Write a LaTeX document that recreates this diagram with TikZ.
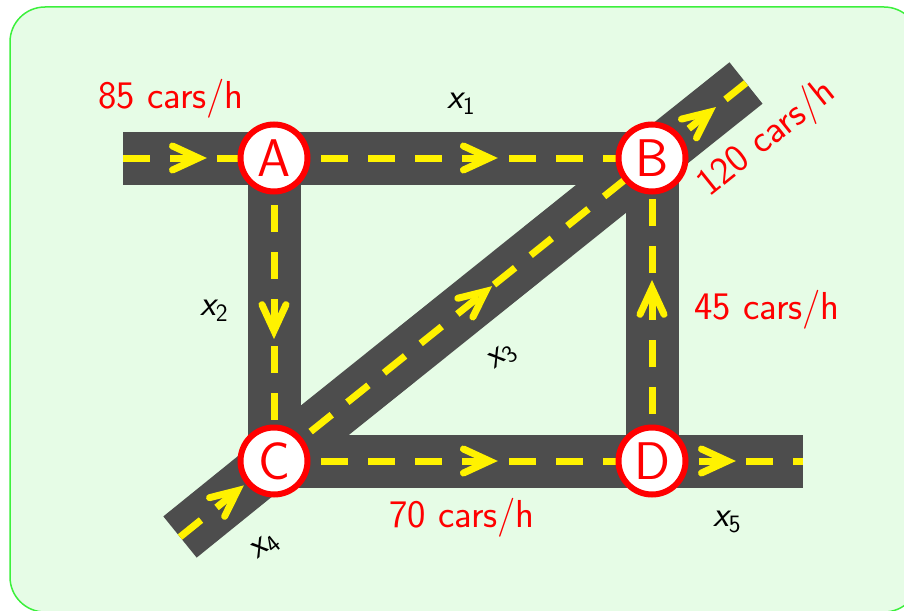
\documentclass[tikz,border=0pt]{standalone}
\usetikzlibrary{decorations.markings}
\definecolor{roadgray}{HTML}{4D4D4D}
\definecolor{bgfill}{HTML}{E6FCE6}
\definecolor{bgline}{HTML}{3CF03C}
\pgfdeclarelayer{bglayer}
\pgfdeclarelayer{roadlayer}
\pgfsetlayers{bglayer,roadlayer,main}
\tikzset{
  road/.style={draw=roadgray, line width=53pt, line cap=butt, line join=miter},
  lane/.style={draw=yellow, line width=7pt, dash pattern=on 27pt off 20pt},
  flow/.style={postaction={decorate}, decoration={markings, mark=at position #1 with {\draw[yellow, solid, line width=7pt, line cap=round, line join=miter] (-26pt,12pt) -- (0pt,0pt) -- (-26pt,-12pt);}}},
  junction/.style={circle, draw=red, line width=6pt, fill=white, minimum size=67pt, inner sep=0pt, text=red, font=\fontsize{53}{53}\selectfont\sffamily},
  rate/.style={text=red, font=\fontsize{39}{39}\selectfont\sffamily, inner sep=0pt},
  var/.style={text=black, inner sep=0pt},
}
\newcommand{\flowvar}[1]{{\fontsize{36}{36}\selectfont\sffamily\itshape x}\raisebox{-6pt}{\fontsize{25}{25}\selectfont\sffamily #1}}
\begin{document}
\begin{tikzpicture}[x=1pt, y=-1pt]
\useasboundingbox (0,0) rectangle (904,610);
\begin{pgfonlayer}{bglayer}
  \clip (0,0) rectangle (904,610);
  \draw[fill=bgfill, draw=bgline, line width=1.5pt, rounded corners=35pt] (10,7) rectangle (919,612);
\end{pgfonlayer}

\node[junction] (A) at (274,158) {A};
\node[junction] (B) at (652,158) {B};
\node[junction] (C) at (274,461) {C};
\node[junction] (D) at (652,461) {D};
\coordinate (P1) at (123,158);
\coordinate (P5) at (803,461);
\coordinate (P4) at (180,537);
\coordinate (P3) at (746,83);

\begin{pgfonlayer}{roadlayer}
  \draw[road] (P1) -- (A.center) -- (B.center) -- (D.center);
  \draw[road] (A.center) -- (C.center) -- (D.center) -- (P5);
  \draw[road] (P4) -- (C.center) -- (B.center) -- (P3);
  \draw[lane, flow=0.5] (P1) -- (A.center);
  \draw[lane, flow=0.57] (A.center) -- (B.center);
  \draw[lane, flow=0.57] (A.center) -- (C.center);
  \draw[lane, flow=0.57] (D.center) -- (B.center);
  \draw[lane, flow=0.57] (C.center) -- (D.center);
  \draw[lane, flow=0.5] (D.center) -- (P5);
  \draw[lane, flow=0.61] (P4) -- (C.center);
  \draw[lane, flow=0.56] (C.center) -- (B.center);
  \draw[lane, flow=0.61] (B.center) -- (P3);
\end{pgfonlayer}

\node[rate] (r85) at (171,99) {85 cars/h};
\node[rate, rotate=38.7] (r120) at (767,139) {120 cars/h};
\node[rate] (r45) at (767,310) {45 cars/h};
\node[rate] (r70) at (462,518) {70 cars/h};
\node[var] (x1) at (461,104) {\flowvar{1}};
\node[var] (x2) at (214,311) {\flowvar{2}};
\node[var, rotate=38.7] (x3) at (502,357) {\flowvar{3}};
\node[var, rotate=38.7] (x4) at (265,547) {\flowvar{4}};
\node[var] (x5) at (727,522) {\flowvar{5}};
\end{tikzpicture}
\end{document}
